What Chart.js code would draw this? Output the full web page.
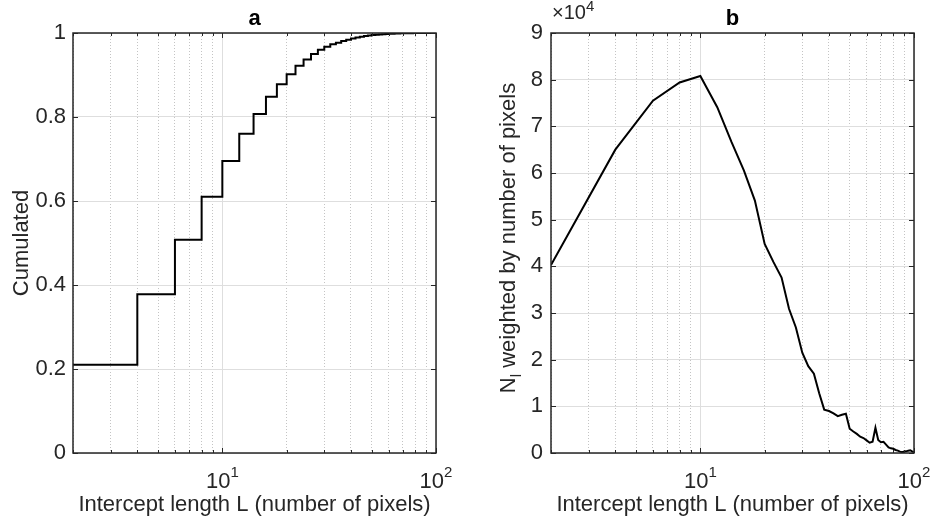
<!DOCTYPE html>
<html>
<head>
<meta charset="utf-8">
<script src="https://cdn.jsdelivr.net/npm/chart.js@4.4.0/dist/chart.umd.min.js"></script>
<style>
  html, body { margin: 0; padding: 0; background: #fff; }
  #wrap { position: relative; width: 934px; height: 521px; }
  canvas { position: absolute; top: 0; }
  #chartA { left: 0; }
  #chartB { left: 467px; }
</style>
</head>
<body>
<div id="wrap">
  <canvas id="chartA" width="467" height="521"></canvas>
  <canvas id="chartB" width="467" height="521"></canvas>
</div>
<script>
// intercept lengths L (pixels)
var lengths = [2, 4, 6, 8, 10, 12, 14, 16, 18, 20, 22, 24, 26, 28, 30, 32, 34, 36, 38, 40,
               42, 44, 46, 48, 50, 52, 54, 56, 58, 60, 62, 64, 66, 68, 70, 72, 74, 76, 78, 80,
               82, 84, 86, 88, 90, 92, 94, 96, 98, 100];

// panel a : cumulated distribution (stairs)
var cumulated = [0.210, 0.378, 0.508, 0.610, 0.695, 0.760, 0.807, 0.848, 0.878, 0.902,
                 0.922, 0.937, 0.950, 0.960, 0.967, 0.973, 0.977, 0.981, 0.984, 0.987,
                 0.989, 0.991, 0.993, 0.994, 0.995, 0.996, 0.9965, 0.997, 0.9975, 0.998,
                 0.9983, 0.9986, 0.999, 0.9992, 0.9994, 0.9995, 0.9996, 0.9997, 0.9998, 0.9998,
                 0.9999, 0.9999, 0.9999, 1.0, 1.0, 1.0, 1.0, 1.0, 1.0, 1.0];

// panel b : N_l weighted by number of pixels
var weighted = [40300, 65000, 75500, 79400, 80800, 74100, 66600, 60500, 54100, 44800,
                40900, 37600, 30900, 26900, 21500, 18600, 17000, 12800, 9300, 9000,
                8500, 7900, 8200, 8400, 5200, 4600, 4100, 3500, 3200, 2700,
                2200, 2400, 5400, 2800, 2300, 2400, 1800, 1200, 1000, 900,
                650, 500, 300, 150, 300, 350, 500, 600, 350, 150];

var xGridValues = [2, 3, 4, 5, 6, 7, 8, 9, 10, 20, 30, 40, 50, 60, 70, 80, 90, 100];
var xLabelValues = [10, 100];
var xLabelExponents = ['1', '2'];

var FONT = '"Liberation Sans", Arial, Helvetica, sans-serif';
var TEXT = '#262626';
Chart.defaults.font.family = FONT;
Chart.defaults.color = TEXT;

function points(ys) {
    return lengths.map(function (x, i) { return { x: x, y: ys[i] }; });
}

var decor = {
    id: 'decor',
    afterDraw: function (chart, args, opts) {
        var ctx = chart.ctx, a = chart.chartArea, xs = chart.scales.x, ys = chart.scales.y;
        ctx.save();
        ctx.strokeStyle = TEXT;
        ctx.lineWidth = 1;
        ctx.beginPath();
        xs.ticks.forEach(function (t) {
            var px = Math.round(xs.getPixelForValue(t.value)) + 0.5;
            var len = t.major ? 5 : 3;
            ctx.moveTo(px, a.bottom); ctx.lineTo(px, a.bottom - len);
            ctx.moveTo(px, a.top); ctx.lineTo(px, a.top + len);
        });
        ys.ticks.forEach(function (t) {
            var py = Math.round(ys.getPixelForValue(t.value)) + 0.5;
            ctx.moveTo(a.left, py); ctx.lineTo(a.left + 5, py);
            ctx.moveTo(a.right, py); ctx.lineTo(a.right - 5, py);
        });
        ctx.stroke();
        ctx.lineWidth = 1.5;
        ctx.strokeRect(a.left, a.top, a.right - a.left, a.bottom - a.top);

        // log tick labels 10^n
        ctx.fillStyle = TEXT;
        ctx.textBaseline = 'alphabetic';
        ctx.textAlign = 'left';
        xLabelValues.forEach(function (v, i) {
            var px = xs.getPixelForValue(v);
            ctx.font = '22px ' + FONT;
            var wb = ctx.measureText('10').width;
            ctx.font = '15px ' + FONT;
            var we = ctx.measureText(xLabelExponents[i]).width;
            var x0 = px - (wb + we) / 2;
            ctx.font = '22px ' + FONT;
            ctx.fillText('10', x0, a.bottom + 35);
            ctx.font = '15px ' + FONT;
            ctx.fillText(xLabelExponents[i], x0 + wb, a.bottom + 24);
        });

        if (opts.multiplier) {
            ctx.font = '20px ' + FONT;
            var w1 = ctx.measureText('\u00d710').width;
            ctx.fillText('\u00d710', a.left + 1, 19);
            ctx.font = '15px ' + FONT;
            ctx.fillText(opts.multiplier, a.left + 1 + w1, 11);
        }

        if (opts.yTitle) {
            ctx.save();
            ctx.translate(a.left - 36, (a.top + a.bottom) / 2 - 5);
            ctx.rotate(-Math.PI / 2);
            ctx.font = '22px ' + FONT;
            var wN = ctx.measureText('N').width;
            var wr = ctx.measureText(opts.yTitle).width;
            ctx.font = '15px ' + FONT;
            var wl = ctx.measureText('l').width;
            var s = -(wN + wl + wr) / 2;
            ctx.font = '22px ' + FONT;
            ctx.fillText('N', s, 0);
            ctx.font = '15px ' + FONT;
            ctx.fillText('l', s + wN, 6);
            ctx.font = '22px ' + FONT;
            ctx.fillText(opts.yTitle, s + wN + wl, 0);
            ctx.restore();
        }
        ctx.restore();
    }
};

function xAxis() {
    return {
        type: 'logarithmic',
        min: 2,
        max: 100,
        afterBuildTicks: function (scale) {
            scale.ticks = xGridValues.map(function (v) {
                return { value: v, major: xLabelValues.indexOf(v) >= 0 };
            });
        },
        afterFit: function (scale) { scale.height = 68; },
        ticks: { display: false },
        grid: {
            drawTicks: false,
            lineWidth: 1,
            color: function (c) { return c.tick && c.tick.major ? '#dedede' : '#c4c4c4'; }
        },
        border: {
            display: false,
            dash: function (c) { return c.tick && c.tick.major ? [] : [1, 2]; }
        },
        title: {
            display: true,
            text: 'Intercept length L (number of pixels)',
            font: { size: 22 },
            padding: { top: 0, bottom: 2.4 }
        }
    };
}

function titleOpts(text) {
    return {
        display: true,
        text: text,
        fullSize: false,
        color: '#000',
        font: { size: 22, weight: 'bold' },
        padding: { top: 6, bottom: 0.6 }
    };
}

new Chart(document.getElementById('chartA'), {
    type: 'line',
    data: {
        datasets: [{
            data: points(cumulated),
            borderColor: '#000',
            borderWidth: 2,
            pointRadius: 0,
            stepped: 'before',
            fill: false
        }]
    },
    options: {
        responsive: false,
        animation: false,
        devicePixelRatio: 1,
        layout: { padding: { left: 0, right: 31, top: 0, bottom: 0 } },
        plugins: {
            legend: { display: false },
            tooltip: { enabled: false },
            title: titleOpts('a'),
            decor: {}
        },
        scales: {
            x: xAxis(),
            y: {
                min: 0,
                max: 1,
                afterFit: function (scale) { scale.width = 73; },
                ticks: {
                    stepSize: 0.2,
                    padding: 7,
                    font: { size: 22 },
                    callback: function (v) { return String(Math.round(v * 10) / 10); }
                },
                grid: { drawTicks: false, color: '#dedede', lineWidth: 1 },
                border: { display: false },
                title: {
                    display: true,
                    text: 'Cumulated',
                    font: { size: 22 },
                    padding: { top: 8.3, bottom: 0 }
                }
            }
        }
    },
    plugins: [decor]
});

new Chart(document.getElementById('chartB'), {
    type: 'line',
    data: {
        datasets: [{
            data: points(weighted),
            borderColor: '#000',
            borderWidth: 2,
            pointRadius: 0,
            tension: 0,
            fill: false
        }]
    },
    options: {
        responsive: false,
        animation: false,
        devicePixelRatio: 1,
        layout: { padding: { left: 0, right: 20, top: 0, bottom: 0 } },
        plugins: {
            legend: { display: false },
            tooltip: { enabled: false },
            title: titleOpts('b'),
            decor: { multiplier: '4', yTitle: ' weighted by number of pixels' }
        },
        scales: {
            x: xAxis(),
            y: {
                min: 0,
                max: 90000,
                afterFit: function (scale) { scale.width = 84; },
                ticks: {
                    stepSize: 10000,
                    padding: 8,
                    font: { size: 22 },
                    callback: function (v) { return String(v / 10000); }
                },
                grid: { drawTicks: false, color: '#dedede', lineWidth: 1 },
                border: { display: false }
            }
        }
    },
    plugins: [decor]
});
</script>
</body>
</html>
